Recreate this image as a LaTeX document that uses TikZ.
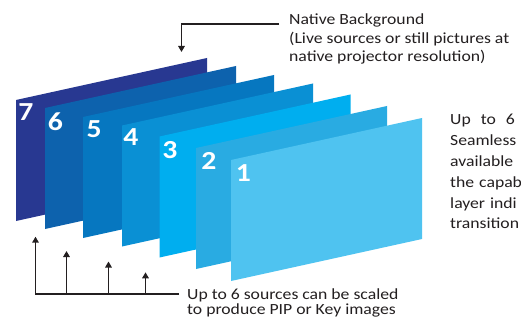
\documentclass[tikz,border=0pt]{standalone}
\usepackage{fontspec}
\setmainfont{Carlito}[FakeStretch=1.14]
\usetikzlibrary{arrows.meta}
\definecolor{cseven}{HTML}{283891}
\definecolor{csix}{HTML}{0D62AD}
\definecolor{cfive}{HTML}{0677C0}
\definecolor{cfour}{HTML}{0A90D4}
\definecolor{cthree}{HTML}{00AEEF}
\definecolor{ctwo}{HTML}{29ABE2}
\definecolor{cone}{HTML}{4FC3F0}
\definecolor{ink}{HTML}{231F20}
\newcommand\layerpanel[3]{\fill[#3] (#1,#2) -- ++(191,-42) -- ++(0,121) -- ++(-191,42) -- cycle;}
\begin{document}
\begin{tikzpicture}[x=1pt,y=-1pt,
  digit/.style={text=white,inner sep=0pt,anchor=base,font=\bfseries\fontsize{26}{26}\selectfont},
  label/.style={text=ink,inner sep=0pt,anchor=base west},
  conn/.style={draw=ink,line width=1.7pt,-{Triangle[length=6pt,width=6.5pt]}}]
\useasboundingbox (0,0) rectangle (521,320);
\fill[white] (0,0) rectangle (521,320);
% panels, back to front
\layerpanel{16}{100}{cseven}
\layerpanel{45}{108}{csix}
\layerpanel{83}{117}{cfive}
\layerpanel{122}{125.5}{cfour}
\layerpanel{159.5}{136.5}{cthree}
\layerpanel{196}{148}{ctwo}
\layerpanel{231}{160}{cone}
% digits
\node[digit] (d7) at (26,121) {7};
\node[digit] (d6) at (55.5,131) {6};
\node[digit] (d5) at (94.2,137.5) {5};
\node[digit] (d4) at (130.9,145.7) {4};
\node[digit] (d3) at (170,158.6) {3};
\node[digit] (d2) at (208.9,170) {2};
\node[digit] (d1) at (243.5,181.7) {1};
% top label
\node[label] (nb) at (289,25) {\fontsize{15.5}{18.25}\selectfont\vtop{\hbox{Native Background}\hbox{(Live sources or still pictures at}\hbox{native projector resolution)}}};
\coordinate (nbstart) at (279,24);
\coordinate (nbcorner) at (181.5,24);
\coordinate (nbtip) at (181.5,52);
\draw[conn] (nbstart) -- (nbcorner) -- (nbtip);
% right paragraph
\node[label] (para) at (450,125) {\fontsize{15.5}{20.8}\selectfont\vtop{\hbox{Up\hspace{10pt}to\hspace{10pt}6}\hbox{Seamless}\hbox{available}\hbox{the\hspace{5pt}capab}\hbox{layer\hspace{5pt}indi}\hbox{transition}}};
% bottom label
\node[label] (src) at (187,299) {\fontsize{15.5}{15}\selectfont\vtop{\hbox{Up to 6 sources can be scaled}\hbox{to produce PIP or Key images}}};
\coordinate (bend) at (179,294);
\coordinate (bcorner) at (35.5,294);
\coordinate (tipa) at (35.5,236.7);
\coordinate (basb) at (66.5,294);
\coordinate (tipb) at (66.5,251);
\coordinate (basc) at (108.5,294);
\coordinate (tipc) at (108.5,261.5);
\coordinate (basd) at (145.5,294);
\coordinate (tipd) at (145.5,272.3);
\draw[conn] (bend) -- (bcorner) -- (tipa);
\draw[conn] (basb) -- (tipb);
\draw[conn] (basc) -- (tipc);
\draw[conn] (basd) -- (tipd);
\end{tikzpicture}
\end{document}
